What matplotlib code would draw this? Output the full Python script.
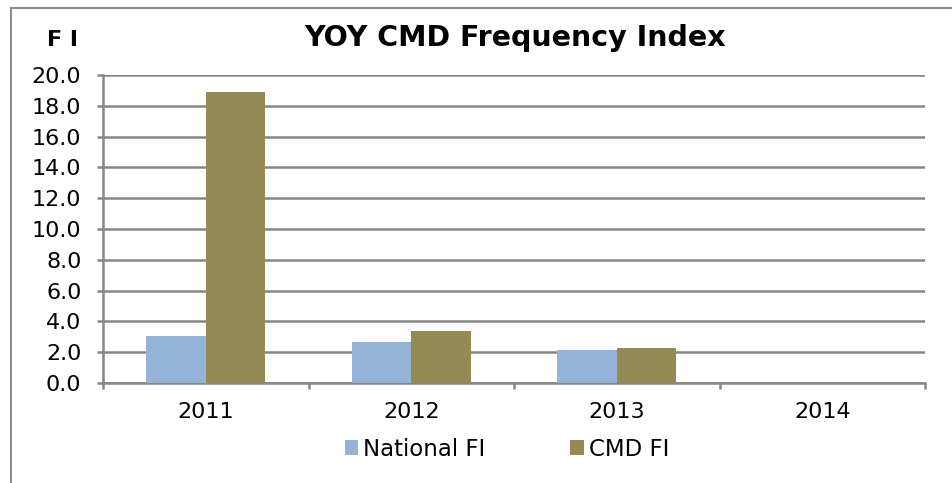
import numpy as np
import matplotlib.pyplot as plt
from matplotlib.lines import Line2D

years = ['2011', '2012', '2013', '2014']
national_fi = [3.05, 2.65, 2.15, 0.0]
cmd_fi = [18.9, 3.4, 2.3, 0.0]
y_ticks = [0, 2, 4, 6, 8, 10, 12, 14, 16, 18, 20]

plt.rcParams['font.family'] = ['DejaVu Sans']

W, H = 952, 483
fig = plt.figure(figsize=(W / 100, H / 100), dpi=100)
ax = fig.add_axes([103 / W, (H - 383) / H, 822 / W, 308 / H])

grey = '#868686'
x = np.arange(len(years))
bw = 0.29
ax.bar(x - bw / 2, national_fi, bw, color='#95B3D7', label='National FI', zorder=3)
ax.bar(x + bw / 2, cmd_fi, bw, color='#948A54', label='CMD FI', zorder=3)

ax.set_xlim(-0.5, len(years) - 0.5)
ax.set_ylim(0, 20)
ax.set_yticks(y_ticks)
ax.set_yticklabels(['%.1f' % v for v in y_ticks], fontsize=16)
ax.yaxis.grid(True, color=grey, linewidth=1.8, zorder=0)
ax.set_xticks(x)
ax.set_xticklabels(years, fontsize=16)
ax.set_xticks(np.arange(-0.5, len(years)), minor=True)
ax.tick_params(axis='x', which='major', length=0, pad=14)
ax.tick_params(axis='x', which='minor', length=4.5, width=1.8, color=grey)
ax.tick_params(axis='y', length=4.5, width=1.8, color=grey, pad=11)
for s in ['top', 'right']:
    ax.spines[s].set_visible(False)
for s in ['left', 'bottom']:
    ax.spines[s].set_color(grey)
    ax.spines[s].set_linewidth(1.8)

fig.text(515 / W, 1 - 38 / H, 'YOY CMD Frequency Index', fontsize=20.5,
         fontweight='bold', ha='center', va='center')
fig.text(62 / W, 1 - 40 / H, 'F I', fontsize=16, fontweight='bold',
         ha='center', va='center')

ax.legend(loc='center', bbox_to_anchor=(507 / W, 1 - 449 / H),
          bbox_transform=fig.transFigure, ncol=2, frameon=False,
          fontsize=16.5, handlelength=0.58, handleheight=0.58,
          handletextpad=0.22, columnspacing=3.7)

fig.add_artist(Line2D([11 / W, 11 / W], [0, 1 - 8 / H], color='#8C8C8C', lw=1.5))
fig.add_artist(Line2D([11 / W, 1], [1 - 8 / H, 1 - 8 / H], color='#8C8C8C', lw=1.5))

fig.savefig('out.png', dpi=100)
